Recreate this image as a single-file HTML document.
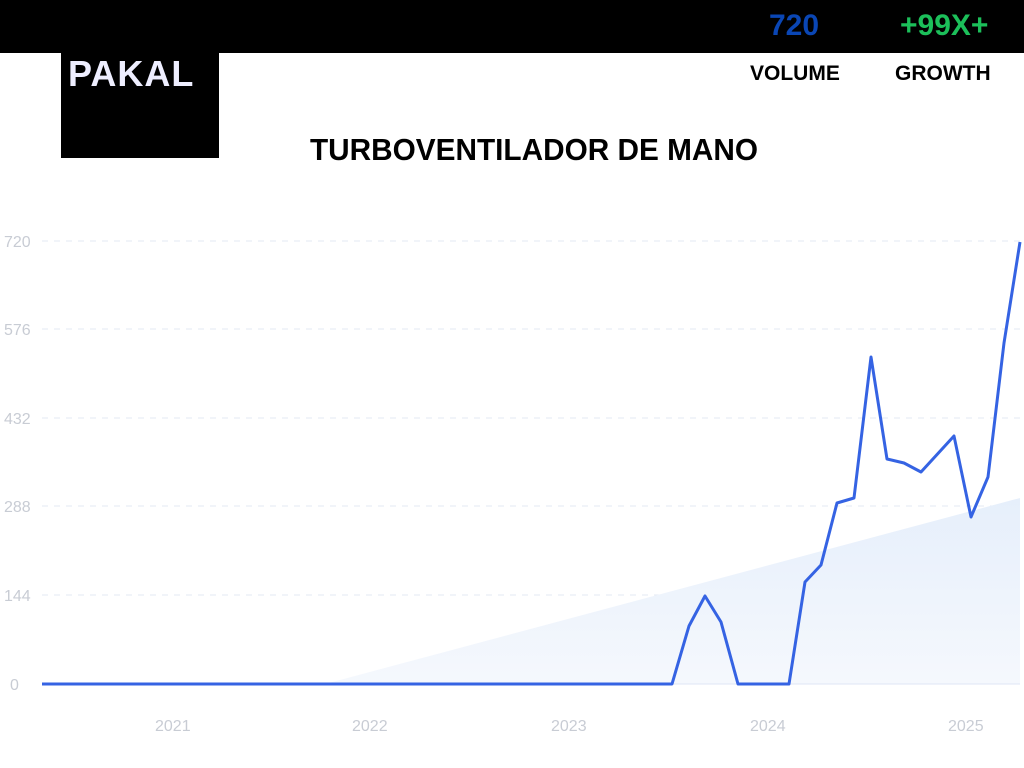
<!DOCTYPE html>
<html><head><style>
body{margin:0;width:1024px;height:768px;background:#fff;overflow:hidden;position:relative;font-family:"Liberation Sans",sans-serif}
.top{position:absolute;left:0;top:0;width:1024px;height:53px;background:#000}
.logo{position:absolute;left:61px;top:53px;width:158px;height:105px;background:#000;color:#eef;font-weight:bold;font-size:36px;letter-spacing:1px;padding:0 0 0 7px;box-sizing:border-box;line-height:42px}
.n{position:absolute;font-weight:bold;font-size:30px;top:9px}
.l{position:absolute;font-weight:bold;font-size:21px;top:62px;color:#000}
.t{position:absolute;left:0;width:1068px;text-align:center;top:132px;font-weight:bold;font-size:31px;transform:scaleX(0.96)}
</style></head><body>
<div class="top"></div>
<div class="logo">PAKAL</div>
<div class="n" style="left:769px;color:#0a46b4">720</div>
<div class="n" style="left:900px;color:#1cbf5a">+99X+</div>
<div class="l" style="left:750px">VOLUME</div>
<div class="l" style="left:895px">GROWTH</div>
<div class="t">TURBOVENTILADOR DE MANO</div>
<svg width="1024" height="768" style="position:absolute;left:0;top:0">
<defs><linearGradient id="g" x1="0" y1="0" x2="0" y2="1"><stop offset="0" stop-color="#e6effb"/><stop offset="1" stop-color="#f5f8fd"/></linearGradient></defs>
<g stroke="#e3e8f3" stroke-dasharray="6,6" stroke-width="1">
<line x1="42" x2="1020" y1="241" y2="241"/><line x1="42" x2="1020" y1="329" y2="329"/><line x1="42" x2="1020" y1="418" y2="418"/><line x1="42" x2="1020" y1="506" y2="506"/><line x1="42" x2="1020" y1="595" y2="595"/></g>
<polygon points="325,684 1020,498 1020,684" fill="url(#g)"/>
<line x1="42" x2="1020" y1="684" y2="684" stroke="#dfe6f5"/>
<g fill="#c8ccd4" font-size="16">
<text x="4" y="247">720</text><text x="4" y="335">576</text><text x="4" y="424">432</text><text x="4" y="512">288</text><text x="4" y="601">144</text><text x="10" y="690">0</text>
<text x="155" y="731">2021</text><text x="352" y="731">2022</text><text x="551" y="731">2023</text><text x="750" y="731">2024</text><text x="948" y="731">2025</text></g>
<polyline fill="none" stroke="#3563e3" stroke-width="3" stroke-linejoin="round" points="42,684 672,684 689,626 705,596 721,622 738,684 789,684 805,582 821,565 837,503 854,498 871,357 887,459 904,463 921,472 954,436 971,517 988,477 1004,343 1020,242"/>
</svg>
</body></html>
